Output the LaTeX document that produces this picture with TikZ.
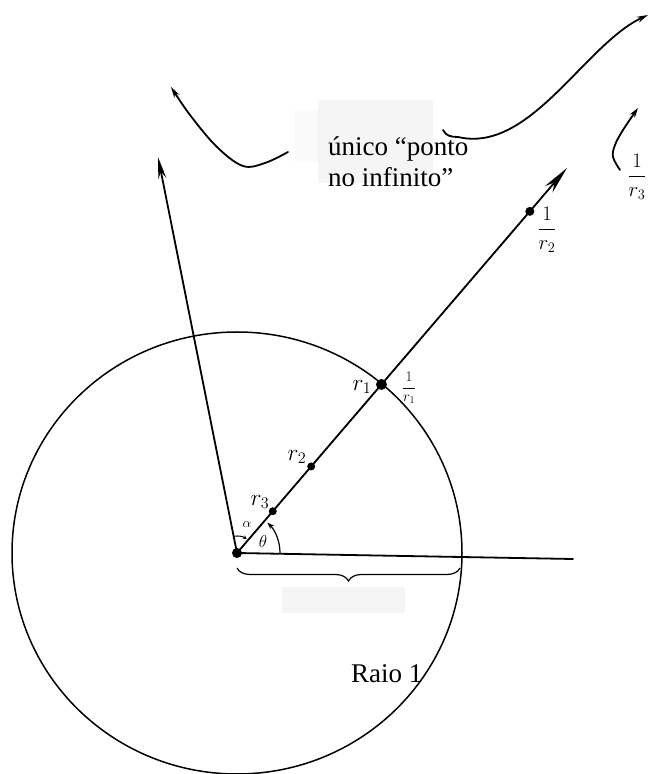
\documentclass[tikz,border=0pt]{standalone}
\usepackage{fontspec}
\setmainfont{Liberation Serif}
\usepackage{amsmath}
\usetikzlibrary{arrows.meta,decorations.pathreplacing,calc}

% handwritten-size maths labels
\newcommand{\handlbl}[2]{\scalebox{#1}{$#2$}}

\begin{document}
\begin{tikzpicture}[x=1pt, y=1pt,
  hand/.style={line width=1.8pt, line cap=round},
  ptdot/.style={circle, fill=black, inner sep=0pt, minimum size=8pt},
  lbl/.style={font=\fontsize{17.28}{19}\selectfont, inner sep=0pt},
  txt/.style={font=\fontsize{27}{31}\selectfont, align=left, inner sep=0pt}]
  \useasboundingbox (0,0) rectangle (652,774);

  % erased patches
  \fill[black!4] (318,674) rectangle (433,591);
  \fill[black!2] (295,664) rectangle (318,612);
  \fill[black!4] (282,187) rectangle (405,161);

  % centre, unit circle
  \coordinate (O) at (237,221);
  \draw[line width=1.5pt] (O) ellipse [x radius=225, y radius=221];

  % rays
  \coordinate (tipR) at ([shift={(49.4:507)}]O);
  \coordinate (tipL) at (158,617);
  \coordinate (xend) at (573,215);
  \draw[hand] (O) -- (xend);
  \draw[hand, -{Stealth[length=28pt, width=10pt]}] (O) -- (tipR);
  \draw[hand, -{Stealth[length=22pt, width=8pt]}] (O) -- (tipL);

  % points on the ray
  \node[ptdot, minimum size=10pt] (O0) at (O) {};
  \node[ptdot] (P3) at ([shift={(49.4:55)}]O) {};
  \node[ptdot] (P2) at ([shift={(49.4:114)}]O) {};
  \node[ptdot, minimum size=11pt] (P1) at ([shift={(49.4:222)}]O) {};
  \node[ptdot, minimum size=9pt] (Q2) at ([shift={(49.4:450)}]O) {};

  % angles
  \draw[line width=1.2pt, -{Stealth[length=7pt, width=5pt]}] ([shift={(0:43)}]O) arc[start angle=0, end angle=45, radius=43];
  \draw[line width=1pt, -{Stealth[length=4pt, width=4pt]}] ([shift={(99:17)}]O) arc[start angle=99, end angle=55, radius=17];
  \node[lbl] (lalpha) at (247,249) {\handlbl{0.8}{\alpha}};
  \node[lbl] (ltheta) at (263,232) {\handlbl{1}{\theta}};

  % labels
  \node[lbl] (lr3) at (260,272) {\handlbl{1.35}{r_3}};
  \node[lbl] (lr2) at (297,317) {\handlbl{1.35}{r_2}};
  \node[lbl] (lr1) at (362,387) {\handlbl{1.35}{r_1}};
  \node[lbl] (linv1) at (409,386) {\handlbl{0.85}{\dfrac{1}{r_1}}};
  \node[lbl] (linv2) at (547,544) {\handlbl{1.2}{\dfrac{1}{r_2}}};
  \node[lbl] (linv3) at (637,597) {\handlbl{1.2}{\dfrac{1}{r_3}}};

  % radius brace
  \coordinate (B1) at (237,206);
  \coordinate (B2) at (460,206);
  \draw[line width=1.2pt, decorate, decoration={brace, mirror, amplitude=13pt}] (B1) -- (B2);
  \node[txt, anchor=base west] (raio) at (351,91) {Raio 1};

  % curves to infinity
  \draw[hand, -{Stealth[length=11pt, width=6pt]}] plot[smooth, tension=0.6] coordinates {(288,622) (265,611) (243,608) (217,627) (190,659) (171,687)};
  \draw[hand, -{Stealth[length=11pt, width=6pt]}] (443,644) .. controls (446,638) and (451,637) .. (458,637) .. controls (530,620) and (585,730) .. (648,759);
  \draw[hand, -{Stealth[length=10pt, width=6pt]}] plot[smooth, tension=0.6] coordinates {(620,604) (613,617) (615,629) (623,644) (638,666)};
  \node[txt, anchor=base west] (inf) at (328,587) {único “ponto\\no infinito”};
\end{tikzpicture}
\end{document}
